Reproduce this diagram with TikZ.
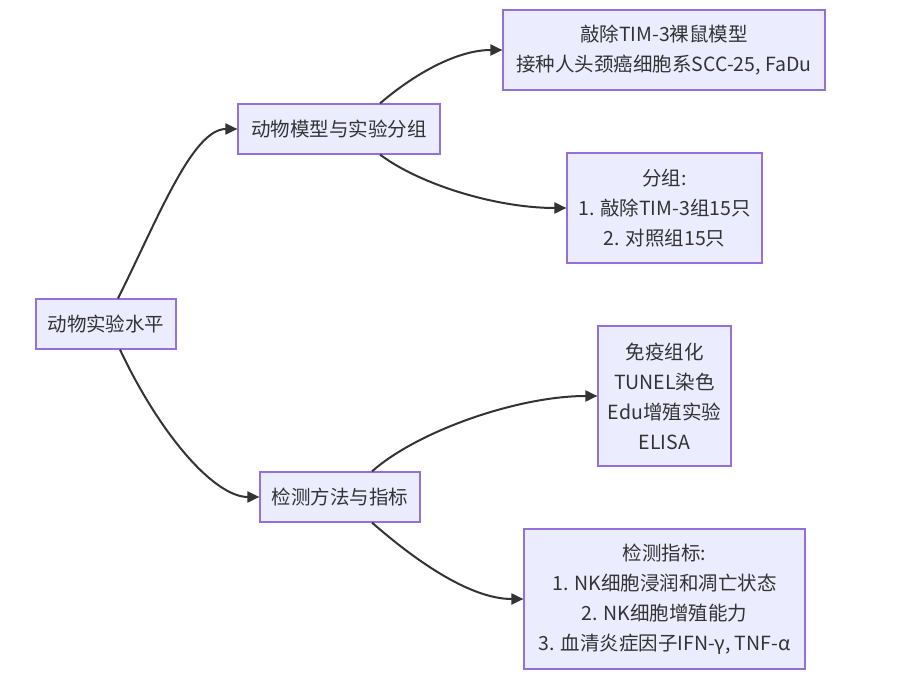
\documentclass[tikz,border=0pt]{standalone}
\usepackage{fontspec}
\setmainfont{Noto Sans CJK SC}
\usetikzlibrary{arrows.meta}
\definecolor{boxfill}{HTML}{ECECFF}
\definecolor{boxline}{HTML}{9370DB}
\definecolor{ink}{HTML}{333333}
\begin{document}
\begin{tikzpicture}[x=1pt,y=-1pt,
  box/.style={draw=boxline,fill=boxfill,line width=1.2pt,text=ink,align=center,
    font=\fontsize{19.5}{30}\selectfont,inner sep=0pt},
  link/.style={draw=ink,line width=2pt,-{Triangle[length=12pt,width=11pt]}}]
\useasboundingbox (0,0) rectangle (919,676);
\node[box,minimum width=140pt,minimum height=50pt] (root) at (106,324) {动物实验水平};
\node[box,minimum width=202pt,minimum height=50pt] (A) at (339,129) {动物模型与实验分组};
\node[box,minimum width=160pt,minimum height=50pt] (B) at (340,497) {检测方法与指标};
\node[box,minimum width=322pt,minimum height=80pt] (A1) at (664,50) {敲除TIM-3裸鼠模型\\接种人头颈癌细胞系SCC-25, FaDu};
\node[box,minimum width=195pt,minimum height=110pt] (A2) at (664.5,208) {分组:\\1. 敲除TIM-3组15只\\2. 对照组15只};
\node[box,minimum width=133pt,minimum height=140pt] (B1) at (664.5,396) {免疫组化\\TUNEL染色\\Edu增殖实验\\ELISA};
\node[box,minimum width=281pt,minimum height=140pt] (B2) at (664.5,599) {检测指标:\\1. NK细胞浸润和凋亡状态\\2. NK细胞增殖能力\\3. 血清炎症因子IFN-γ, TNF-α};
\draw[link] ([xshift=12pt]root.north) .. controls +(40,-80) and +(-45,0) .. (A.west);
\draw[link] ([xshift=14pt]root.south) .. controls +(40,85) and +(-45,0) .. (B.west);
\draw[link] ([xshift=41pt]A.north) .. controls +(35,-30) and +(-45,0) .. (A1.west);
\draw[link] ([xshift=41pt]A.south) .. controls +(40,30) and +(-70,0) .. (A2.west);
\draw[link] ([xshift=32pt]B.north) .. controls +(45,-40) and +(-80,0) .. (B1.west);
\draw[link] ([xshift=32pt]B.south) .. controls +(40,35) and +(-55,0) .. (B2.west);
\end{tikzpicture}
\end{document}
